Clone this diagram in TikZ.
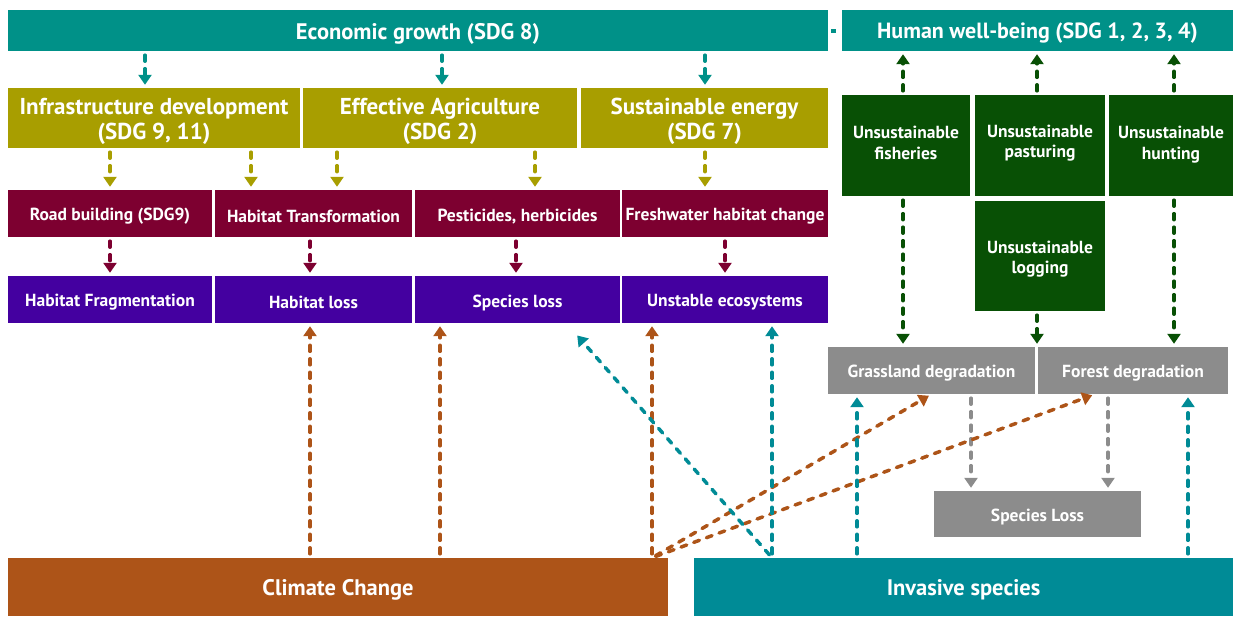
\documentclass[tikz,border=0pt]{standalone}
\usepackage{fontspec}
\setmainfont{PT Sans}
\usetikzlibrary{arrows.meta,calc}
\definecolor{ctealA}{RGB}{0,145,136}
\definecolor{ctealB}{RGB}{0,139,150}
\definecolor{colive}{RGB}{168,158,0}
\definecolor{cmaroon}{RGB}{125,0,48}
\definecolor{cpurple}{RGB}{68,0,160}
\definecolor{cgreen}{RGB}{8,80,5}
\definecolor{cgray}{RGB}{140,140,140}
\definecolor{corange}{RGB}{173,84,24}
\newcommand\fsBig{\fontsize{22.5}{26}\selectfont\bfseries}
\newcommand\fsOlv{\fontsize{23}{25}\selectfont\bfseries}
\newcommand\fsSml{\fontsize{17.5}{20.5}\selectfont\bfseries}
\tikzset{
  box/.style={draw=none, inner sep=0pt, anchor=center},
  lb/.style={text=white, inner sep=0pt, align=center, yshift=-3pt},
  lbup/.style={text=white, inner sep=0pt, align=center, yshift=2.5pt},
  conn/.style={line width=3.5pt, line cap=round, dash pattern=on 6pt off 7.5pt,
     -{Triangle[length=10pt,width=13pt]}, shorten <=4pt, shorten >=3pt},
}
\begin{document}
\begin{tikzpicture}[x=1pt,y=-1pt]
\useasboundingbox (0,0) rectangle (1233,616);
% top row
\node[box, fill=ctealA, minimum width=820pt, minimum height=41pt, label={[lb,font=\fsBig]center:Economic growth (SDG 8)}] (econ) at (418,30.5) {};
\node[box, fill=ctealA, minimum width=391pt, minimum height=41pt, label={[lb,font=\fontsize{22}{26}\selectfont\bfseries]center:Human well-being (SDG 1, 2, 3, 4)}] (human) at (1037.5,30.5) {};
% olive row
\tikzset{olv/.style={box, fill=colive, minimum height=60pt}}
\node[olv, minimum width=292pt, label={[lb,font=\fsOlv]center:Infrastructure development\\(SDG 9, 11)}] (infra) at (154,118) {};
\node[olv, minimum width=274pt, label={[lb,font=\fsOlv]center:Effective Agriculture\\(SDG 2)}] (agri) at (440,118) {};
\node[olv, minimum width=247pt, label={[lb,font=\fsOlv]center:Sustainable energy\\(SDG 7)}] (energy) at (704.5,118) {};
% maroon row
\tikzset{mar/.style={box, fill=cmaroon, minimum height=47pt}}
\node[mar, minimum width=204pt, label={[lb,font=\fsSml]center:Road building (SDG9)}] (road) at (110,213.5) {};
\node[mar, minimum width=197pt, label={[lb,font=\fsSml]center:Habitat Transformation}] (habtr) at (313.5,213.5) {};
\node[mar, minimum width=205pt, label={[lb,font=\fsSml]center:Pesticides, herbicides}] (pest) at (517.5,213.5) {};
\node[mar, minimum width=206pt, label={[lb,font=\fsSml]center:Freshwater habitat change}] (fresh) at (725,213.5) {};
% purple row
\tikzset{pur/.style={box, fill=cpurple, minimum height=47pt}}
\node[pur, minimum width=204pt, label={[lb,font=\fsSml]center:Habitat Fragmentation}] (frag) at (110,299.5) {};
\node[pur, minimum width=197pt, label={[lb,font=\fsSml]center:Habitat loss}] (habloss) at (313.5,299.5) {};
\node[pur, minimum width=205pt, label={[lb,font=\fsSml]center:Species loss}] (specloss) at (517.5,299.5) {};
\node[pur, minimum width=206pt, label={[lb,font=\fsSml]center:Unstable ecosystems}] (unstable) at (725,299.5) {};
% green boxes
\tikzset{grn/.style={box, fill=cgreen}}
\node[grn, minimum width=128pt, minimum height=101pt, label={[lbup,font=\fsSml]center:Unsustainable\\fisheries}] (fish) at (906,145.5) {};
\node[grn, minimum width=130pt, minimum height=101pt, label={[lbup,font=\fsSml]center:Unsustainable\\pasturing}] (past) at (1040,145.5) {};
\node[grn, minimum width=124pt, minimum height=101pt, label={[lbup,font=\fsSml,yshift=-1.5pt]center:Unsustainable\\hunting}] (hunt) at (1171,145.5) {};
\node[grn, minimum width=130pt, minimum height=110pt, label={[lb,font=\fsSml]center:Unsustainable\\logging}] (logg) at (1040,256) {};
% gray boxes
\tikzset{gry/.style={box, fill=cgray, minimum height=47pt}}
\node[gry, minimum width=207pt, label={[lb,font=\fsSml]center:Grassland degradation}] (grass) at (931.5,370.5) {};
\node[gry, minimum width=190pt, label={[lb,font=\fsSml]center:Forest degradation}] (forest) at (1133,370.5) {};
\node[gry, minimum width=207pt, minimum height=46pt, label={[lb,font=\fsSml]center:Species Loss}] (sploss) at (1037.5,514) {};
% bottom
\node[box, fill=corange, minimum width=660pt, minimum height=58pt, label={[lb,font=\fsBig]center:Climate Change}] (climate) at (338,587) {};
\node[box, fill=ctealB, minimum width=539pt, minimum height=58pt, label={[lb,font=\fsBig]center:Invasive species}] (invasive) at (963.5,587) {};

% connectors
\draw[line width=4pt, ctealA, shorten <=3pt, shorten >=6pt] (econ.east) -- (human.west);
\foreach \a/\b/\x in {econ/infra/145, econ/agri/442, econ/energy/705}
  \draw[conn, ctealA] (\a.south -| \x,0) -- (\b.north -| \x,0);
\foreach \a/\b/\x in {infra/road/110, infra/habtr/251, agri/habtr/337, agri/pest/535, energy/fresh/705}
  \draw[conn, colive] (\a.south -| \x,0) -- (\b.north -| \x,0);
\foreach \a/\b/\x in {road/frag/110, habtr/habloss/310, pest/specloss/516, fresh/unstable/725}
  \draw[conn, cmaroon] (\a.south -| \x,0) -- (\b.north -| \x,0);
\foreach \a/\x in {fish/903, past/1037, hunt/1174}
  \draw[conn, cgreen] (\a.north -| \x,0) -- (human.south -| \x,0);
\draw[conn, cgreen] (fish.south -| 903,0) -- (grass.north -| 903,0);
\draw[conn, cgreen] (logg.south -| 1037,0) -- (grass.north -| 1037,0);
\draw[conn, cgreen] (hunt.south -| 1174,0) -- (forest.north -| 1174,0);
\draw[conn, cgray] (grass.south -| 971,0) -- (sploss.north -| 971,0);
\draw[conn, cgray] (forest.south -| 1108,0) -- (sploss.north -| 1108,0);
\foreach \b/\x in {habloss/310, specloss/440, unstable/652}
  \draw[conn, corange] (climate.north -| \x,0) -- (\b.south -| \x,0);
\draw[conn, corange] (climate.north -| 652,0) -- (grass.south);
\draw[conn, corange] (climate.north -| 652,0) -- ([xshift=-38pt]forest.south);
\draw[conn, ctealB] (invasive.north -| 772,0) -- (unstable.south -| 772,0);
\draw[conn, ctealB] (invasive.north -| 857,0) -- (grass.south -| 857,0);
\draw[conn, ctealB] (invasive.north -| 1188,0) -- (forest.south -| 1188,0);
\draw[conn, ctealB] (invasive.north -| 772,0) -- ([shift={(-45,10)}]specloss.south east);
\end{tikzpicture}
\end{document}
